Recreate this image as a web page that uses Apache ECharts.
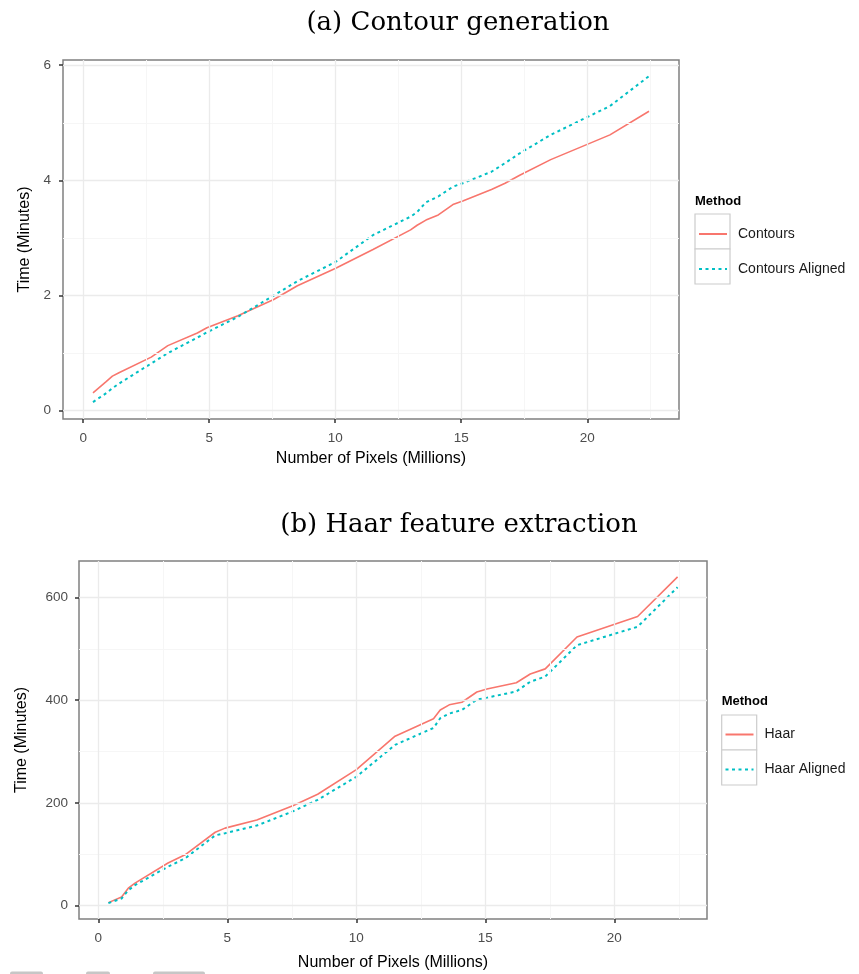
<!DOCTYPE html>
<html>
<head>
<meta charset="utf-8">
<title>Contour and Haar timing</title>
<script src="https://cdn.jsdelivr.net/npm/echarts@6/dist/echarts.min.js"></script>
<style>
  html, body { margin: 0; padding: 0; background: #fff; }
  #chart { width: 859px; height: 974px; }
</style>
</head>
<body>
<div id="chart"></div>
<script>
// image sizes (millions of pixels), shared by both panels
const pixels = [0.39, 0.9, 1.16, 1.42, 2.7, 3.36, 4.53, 4.91, 6.14, 7.56, 8.5, 10.0, 11.5,
  12.99, 13.25, 13.6, 14.09, 14.67, 15.06, 16.2, 16.74, 17.32, 18.55, 20.9, 22.45]

// (a) contour generation, minutes
const contours = [0.31, 0.5, 0.6, 0.66, 0.93, 1.13, 1.35, 1.44, 1.65, 1.93, 2.17, 2.47, 2.8,
  3.14, 3.22, 3.31, 3.4, 3.58, 3.64, 3.84, 3.95, 4.09, 4.36, 4.79, 5.2]
const contoursAligned = [0.15, 0.3, 0.39, 0.47, 0.82, 1.0, 1.27, 1.36, 1.63, 2.0, 2.25, 2.58, 3.05,
  3.37, 3.45, 3.62, 3.72, 3.89, 3.95, 4.15, 4.3, 4.47, 4.79, 5.29, 5.81]

// (b) haar feature extraction, minutes
const haar = [6, 17, 34, 44, 83, 99, 143, 151, 167, 195, 217, 265, 330,
  364, 381, 391, 396, 416, 422, 434, 451, 461, 523, 563, 640]
const haarAligned = [5, 14, 30, 40, 76, 92, 137, 141, 156, 184, 206, 251, 313,
  346, 365, 374, 381, 401, 405, 417, 436, 446, 507, 543, 620]

// tick labels and grid lines
const xTicks = [0, 5, 10, 15, 20]
const xMinor = [2.5, 7.5, 12.5, 17.5, 22.5]
const contourTicks = [0, 2, 4, 6]
const contourMinor = [1, 3, 5]
const haarTicks = [0, 200, 400, 600]
const haarMinor = [100, 300, 500]

const RED = '#F8766D'
const CYAN = '#00BFC4'
const FONT = 'Liberation Sans'

const chart = echarts.init(document.getElementById('chart'))

const pairs = (ys) => pixels.map((x, i) => [x, ys[i]])

// faint ggplot-style grid, drawn as mark lines
const gridLines = (xMaj, xMin, yMaj, yMin) => {
  const major = { color: '#ebebeb', width: 1.3, type: 'solid' }
  const minor = { color: '#f6f6f6', width: 1, type: 'solid' }
  return {
    silent: true,
    symbol: ['none', 'none'],
    symbolSize: 0,
    animation: false,
    label: { show: false },
    emphasis: { disabled: true },
    data: [
      ...xMin.map((v) => ({ xAxis: v, lineStyle: minor })),
      ...yMin.map((v) => ({ yAxis: v, lineStyle: minor })),
      ...xMaj.map((v) => ({ xAxis: v, lineStyle: major })),
      ...yMaj.map((v) => ({ yAxis: v, lineStyle: major })),
    ],
  }
}

const xAxisFor = (gridIndex, min, max, nameGap, margin) => ({
  type: 'value',
  gridIndex,
  min,
  max,
  name: 'Number of Pixels (Millions)',
  nameLocation: 'middle',
  nameGap,
  nameTextStyle: { fontFamily: FONT, fontSize: 16, color: '#000' },
  axisLine: { show: false, onZero: false },
  axisTick: { show: true, length: 4, customValues: xTicks, lineStyle: { color: '#333', width: 1.5 } },
  axisLabel: { customValues: xTicks, margin, fontFamily: FONT, fontSize: 13.5, color: '#4d4d4d' },
  splitLine: { show: false },
})

const yAxisFor = (gridIndex, min, max, ticks, nameGap, margin) => ({
  type: 'value',
  gridIndex,
  min,
  max,
  name: 'Time (Minutes)',
  nameLocation: 'middle',
  nameGap,
  nameRotate: 90,
  nameTextStyle: { fontFamily: FONT, fontSize: 16, color: '#000' },
  axisLine: { show: false, onZero: false },
  axisTick: { show: true, length: 4, customValues: ticks, lineStyle: { color: '#333', width: 1.5 } },
  axisLabel: { customValues: ticks, margin, fontFamily: FONT, fontSize: 13.5, color: '#4d4d4d' },
  splitLine: { show: false },
})

const legendFor = (names, left, top) => ({
  data: names,
  orient: 'vertical',
  left,
  top,
  padding: 0,
  itemWidth: 28,
  itemHeight: 14,
  itemGap: 21,
  selectedMode: false,
  itemStyle: { opacity: 0 },
  textStyle: { fontFamily: FONT, fontSize: 14, color: '#1a1a1a', padding: [0, 0, 0, 6] },
})

const keyBoxes = (x, y) => [0, 1].map((i) => ({
  type: 'rect',
  shape: { x, y: y + i * 35, width: 35, height: 35 },
  style: { fill: '#fff', stroke: '#cccccc', lineWidth: 1.2 },
  z: -1,
}))

const label = (text, x, y, size, weight, family) => ({
  type: 'text',
  x,
  y,
  style: {
    text,
    fontFamily: family || FONT,
    fontSize: size,
    fontWeight: weight || 'normal',
    fill: '#000',
    textAlign: family ? 'center' : 'left',
    textVerticalAlign: 'middle',
  },
})

const option = {
  backgroundColor: '#fff',
  animation: false,
  grid: [
    { left: 63, top: 60, width: 616, height: 359, show: true, backgroundColor: '#fff', borderColor: '#808080', borderWidth: 1.5 },
    { left: 79, top: 561, width: 628, height: 358, show: true, backgroundColor: '#fff', borderColor: '#808080', borderWidth: 1.5 },
  ],
  xAxis: [
    xAxisFor(0, -0.8, 23.64, 32, 12),
    xAxisFor(1, -0.75, 23.59, 36, 12),
  ],
  yAxis: [
    yAxisFor(0, -0.144, 6.09, contourTicks, 29, 12),
    yAxisFor(1, -25.9, 671, haarTicks, 49, 11),
  ],
  legend: [
    legendFor(['Contours', 'Contours Aligned'], 698, 227),
    legendFor(['Haar', 'Haar Aligned'], 724.5, 727.5),
  ],
  graphic: [
    label('(a) Contour generation', 458, 23, 26, 'normal', 'DejaVu Serif'),
    label('(b) Haar feature extraction', 459, 525, 26, 'normal', 'DejaVu Serif'),
    label('Method', 695, 201, 13, 'bold'),
    label('Method', 721.7, 701.7, 13, 'bold'),
    ...keyBoxes(695, 214),
    ...keyBoxes(721.7, 715),
    // clipped boxes along the bottom edge of the page
    { type: 'rect', shape: { x: 10, y: 971.5, width: 33, height: 6, r: [2, 2, 0, 0] }, style: { fill: '#c6c6c6' } },
    { type: 'rect', shape: { x: 86, y: 971.5, width: 24, height: 6, r: [2, 2, 0, 0] }, style: { fill: '#c6c6c6' } },
    { type: 'rect', shape: { x: 153, y: 971.5, width: 52, height: 6, r: [2, 2, 0, 0] }, style: { fill: '#c6c6c6' } },
  ],
  series: [
    {
      name: 'Contours',
      type: 'line',
      xAxisIndex: 0,
      yAxisIndex: 0,
      symbol: 'none',
      lineStyle: { color: RED, width: 1.6 },
      itemStyle: { color: RED },
      markLine: gridLines(xTicks, xMinor, contourTicks, contourMinor),
      data: pairs(contours),
    },
    {
      name: 'Contours Aligned',
      type: 'line',
      xAxisIndex: 0,
      yAxisIndex: 0,
      symbol: 'none',
      lineStyle: { color: CYAN, width: 2, type: [3, 3.5] },
      itemStyle: { color: CYAN },
      data: pairs(contoursAligned),
    },
    {
      name: 'Haar',
      type: 'line',
      xAxisIndex: 1,
      yAxisIndex: 1,
      symbol: 'none',
      lineStyle: { color: RED, width: 1.6 },
      itemStyle: { color: RED },
      markLine: gridLines(xTicks, xMinor, haarTicks, haarMinor),
      data: pairs(haar),
    },
    {
      name: 'Haar Aligned',
      type: 'line',
      xAxisIndex: 1,
      yAxisIndex: 1,
      symbol: 'none',
      lineStyle: { color: CYAN, width: 2, type: [3, 3.5] },
      itemStyle: { color: CYAN },
      data: pairs(haarAligned),
    },
  ],
}

chart.setOption(option)
</script>
</body>
</html>
